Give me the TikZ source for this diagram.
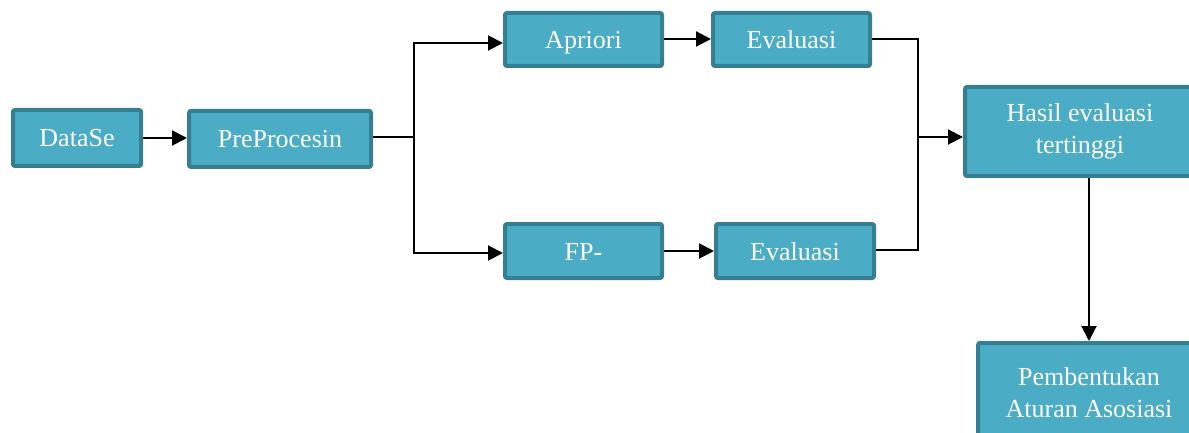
\documentclass[tikz,border=0pt]{standalone}
\usepackage{fontspec}
\setmainfont{Liberation Serif}
\usetikzlibrary{arrows.meta}
\definecolor{boxfill}{HTML}{4BACC6}
\definecolor{boxline}{HTML}{367F92}
\tikzset{
  stepbox/.style={draw=boxline, fill=boxfill, line width=4pt, rounded corners=2pt,
    text=white, font=\fontsize{26}{32}\selectfont, align=center, inner sep=0pt},
  onebox/.style={stepbox, text height=22pt, text depth=4pt},
  link/.style={draw=black, line width=2pt},
  thin link/.style={draw=black, line width=1.5pt},
  arr/.style={link, -{Triangle[length=15pt,width=15pt]}}
}
\begin{document}
\begin{tikzpicture}[x=1pt,y=-1pt]
\useasboundingbox (0,0) rectangle (1189,433);
\begin{scope}
\clip (0,0) rectangle (1189,433);
% process boxes
\node[onebox, minimum width=128pt, minimum height=56pt] (data) at (77,138) {DataSe};
\node[onebox, minimum width=182pt, minimum height=56pt] (pre) at (280,139) {PreProcesin};
\node[onebox, minimum width=157pt, minimum height=53pt] (apr) at (583.5,39.5) {Apriori};
\node[onebox, minimum width=157pt, minimum height=53pt] (ev1) at (791.5,39.5) {Evaluasi};
\node[onebox, minimum width=157pt, minimum height=54pt] (fp) at (583.5,251) {FP-};
\node[onebox, minimum width=158pt, minimum height=54pt] (ev2) at (795,251) {Evaluasi};
\node[stepbox, minimum width=230pt, minimum height=89pt] (best) at (1080,131.5) {Hasil evaluasi\\tertinggi};
\node[stepbox, minimum width=222pt, minimum height=100pt] (rule) at (1089,393) {Pembentukan\\Aturan Asosiasi};

% helper coordinates for the branch and merge lines
\coordinate (split) at (414,137);
\coordinate (ya) at (0,43);
\coordinate (yf) at (0,253);
\coordinate (ytop) at (0,39);
\coordinate (ybot) at (0,250);
\coordinate (join) at (918,137);

% connectors
\draw[arr] (data) -- (pre.west |- data);
\draw[link] (pre.east |- split) -- (split);
\draw[arr] (split) |- (apr.west |- ya);
\draw[arr] (split) |- (fp.west |- yf);
\draw[arr] (apr.east |- ytop) -- (ev1.west |- ytop);
\draw[arr] (fp) -- (ev2);
\draw[thin link] (ev1.east |- ytop) -| (join);
\draw[thin link] (ev2.east |- ybot) -| (join);
\draw[arr] (join) -- (best.west |- join);
\draw[arr] (best.south -| rule.north) -- (rule.north);
\end{scope}
\end{tikzpicture}
\end{document}
